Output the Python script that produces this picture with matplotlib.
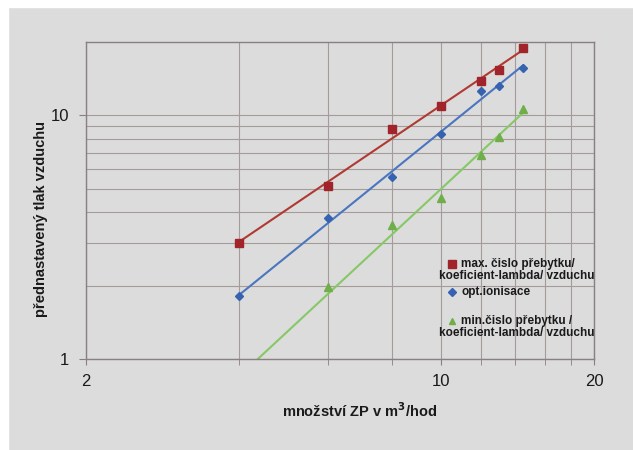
import numpy as np
import matplotlib
matplotlib.use("Agg")
import matplotlib.pyplot as plt
from matplotlib.lines import Line2D
from matplotlib.patches import Rectangle
from matplotlib.ticker import FixedLocator, NullFormatter, FixedFormatter

plt.rcParams['font.family'] = ['Liberation Sans', 'DejaVu Sans']

# data (the min series has a point at x=4 below the visible range)
x_max = [4, 6, 8, 10, 12, 13, 14.5]
y_max = [3.0, 5.15, 8.8, 10.9, 13.9, 15.4, 18.9]
x_opt = [4, 6, 8, 10, 12, 13, 14.5]
y_opt = [1.81, 3.78, 5.6, 8.4, 12.6, 13.2, 15.6]
x_min = [4, 6, 8, 10, 12, 13, 14.5]
y_min = [0.8, 1.98, 3.56, 4.6, 6.85, 8.15, 10.6]

labels = ["max. čislo přebytku/\nkoeficient-lambda/ vzduchu",
          "opt.ionisace",
          "min.čislo přebytku /\nkoeficient-lambda/ vzduchu"]
x_ticks_major = [2, 10, 20]
x_ticks_minor = [4, 6, 8, 12, 14, 16, 18]
y_ticks_major = [1, 10]
y_ticks_minor = [2, 3, 4, 5, 6, 7, 8, 9]

W, H = 633, 450
fig = plt.figure(figsize=(W / 100, H / 100), dpi=100)
bg = '#dcdcdc'
fig.patch.set_facecolor(bg)
fig.add_artist(Rectangle((0, 0), 8 / W, 1, transform=fig.transFigure, color='white', zorder=-10))
fig.add_artist(Rectangle((0, 1 - 7 / H), 1, 7 / H, transform=fig.transFigure, color='white', zorder=-10))

ax = fig.add_axes([86 / W, 1 - 359 / H, (594 - 86) / W, (359 - 42) / H])
ax.set_facecolor(bg)
ax.set_xscale('log')
ax.set_yscale('log')
ax.set_xlim(2, 20)
ax.set_ylim(1, 20)

gridc = '#a59c9a'
ax.xaxis.set_major_locator(FixedLocator(x_ticks_major))
ax.xaxis.set_major_formatter(FixedFormatter([str(v) for v in x_ticks_major]))
ax.xaxis.set_minor_locator(FixedLocator(x_ticks_minor))
ax.xaxis.set_minor_formatter(NullFormatter())
ax.yaxis.set_major_locator(FixedLocator(y_ticks_major))
ax.yaxis.set_major_formatter(FixedFormatter([str(v) for v in y_ticks_major]))
ax.yaxis.set_minor_locator(FixedLocator(y_ticks_minor))
ax.yaxis.set_minor_formatter(NullFormatter())

ax.grid(True, which='both', axis='both', color=gridc, lw=0.8)
ax.tick_params(axis='x', which='both', direction='out', length=4, color='#8a8080',
               labelsize=12, pad=7, labelcolor='#1a1a1a')
ax.tick_params(axis='y', which='major', direction='out', length=5, color='#8a8080',
               labelsize=12, pad=7, labelcolor='#1a1a1a')
ax.tick_params(axis='y', which='minor', length=0)
for s in ax.spines.values():
    s.set_color('#8a8080')
    s.set_linewidth(1.0)

def power_fit(xs, ys):
    b, a = np.polyfit(np.log(xs), np.log(ys), 1)
    return b, a

series = [
    (x_max, y_max, 's', '#a0242a', '#b03a32', 6.3),
    (x_opt, y_opt, 'D', '#3563b0', '#4a76c0', 4.2),
    (x_min, y_min, '^', '#6fae48', '#86c866', 6.0),
]
xl = np.linspace(4, 14.5, 50)
for xs, ys, m, mc, lc, ms in series:
    b, a = power_fit(xs, ys)
    ax.plot(xl, np.exp(a) * xl ** b, color=lc, lw=1.5, zorder=2)
    ax.plot(xs, ys, linestyle='none', marker=m, color=mc, ms=ms, zorder=3)

ax.set_xlabel("množství ZP v m$^{\\mathbf{3}}$/hod", fontsize=10.5, fontweight='bold', color='#1a1a1a')
ax.xaxis.label.set_va('center')
ax.xaxis.set_label_coords((360 - 86) / 508, (359 - 411) / 317)
ax.set_ylabel("přednastavený tlak vzduchu", fontsize=10.5, fontweight='bold', color='#1a1a1a')
ax.yaxis.label.set_va('center')
ax.yaxis.set_label_coords((41 - 86) / 508, (359 - 219) / 317)

# legend (manual layout)
fs = 8.5
def fx(px):
    return px / W
def fy(py):
    return 1 - py / H

entries = [
    ('s', '#a0242a', 5.5, 264, labels[0]),
    ('D', '#3563b0', 3.8, 292, labels[1]),
    ('^', '#6fae48', 5.0, 321, labels[2]),
]
for m, c, ms, py, lab in entries:
    parts = lab.split('\n')
    fig.add_artist(Line2D([fx(452)], [fy(py)], marker=m, color=c, ms=ms,
                          linestyle='none', transform=fig.transFigure))
    fig.text(fx(461), fy(py), parts[0], fontsize=fs, fontweight='bold',
             ha='left', va='center', color='#1a1a1a')
    if len(parts) > 1:
        fig.text(fx(517), fy(py + 12), parts[1], fontsize=fs, fontweight='bold',
                 ha='center', va='center', color='#1a1a1a')

fig.savefig('out.png', dpi=100, facecolor=fig.get_facecolor())
